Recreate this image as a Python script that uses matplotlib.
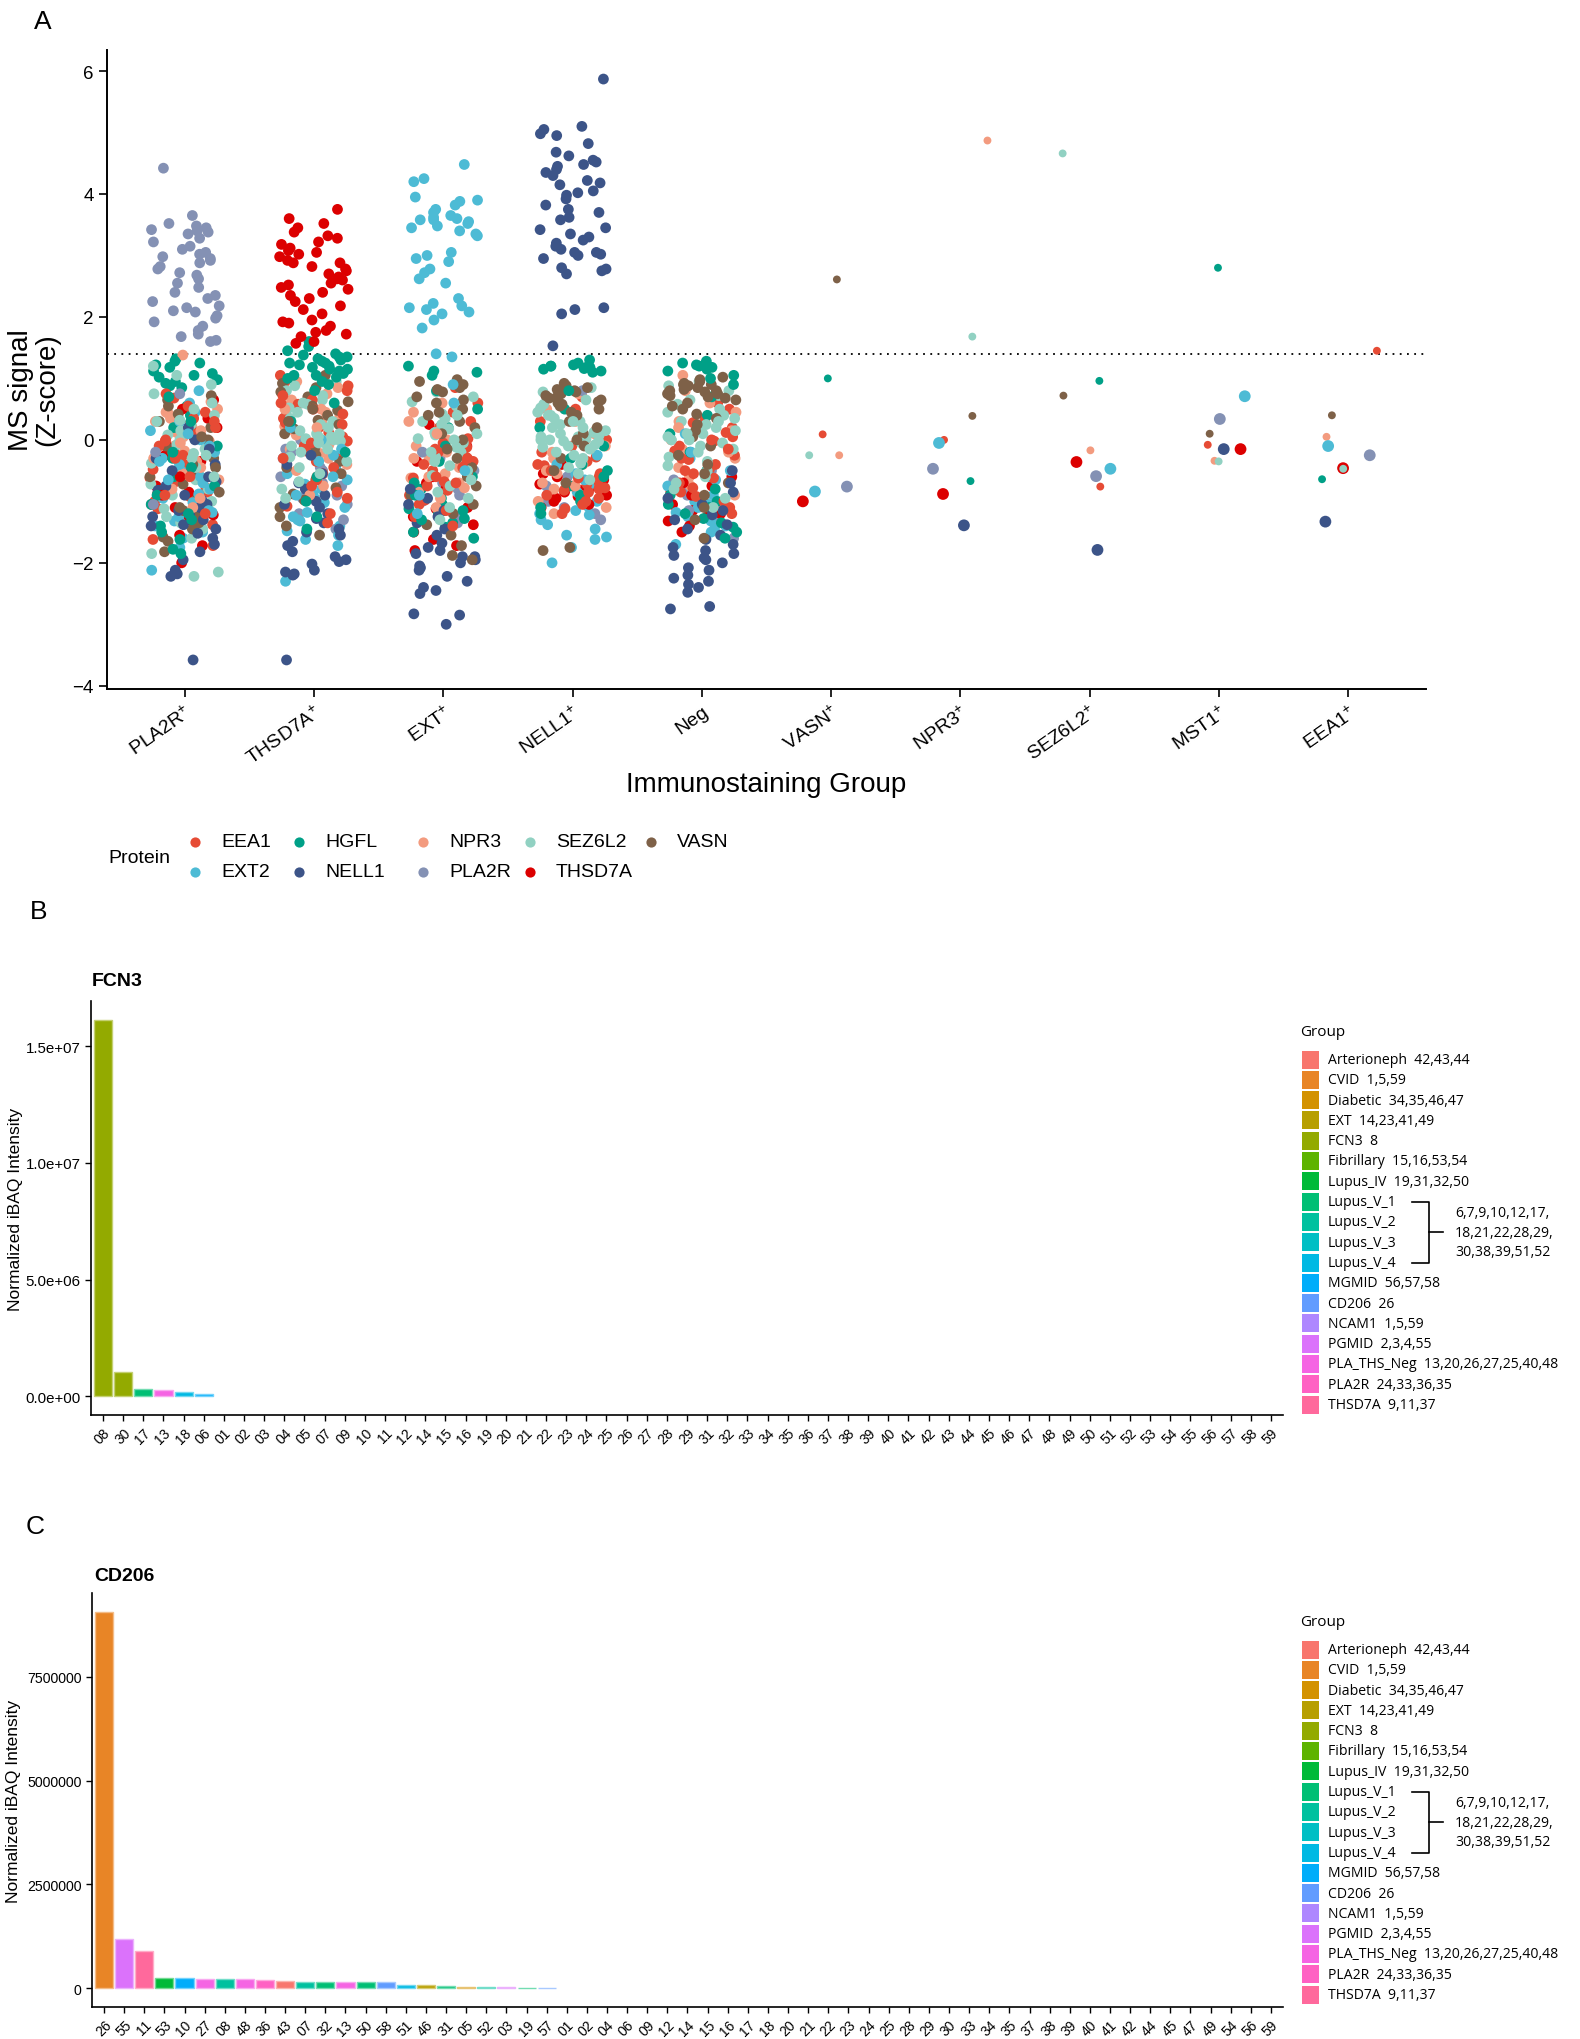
import numpy as np
import matplotlib
matplotlib.use("Agg")
import matplotlib.pyplot as plt
from matplotlib.patches import Rectangle

plt.rcParams['font.family'] = ['Liberation Sans', 'DejaVu Sans']
plt.rcParams['mathtext.fontset'] = 'custom'
plt.rcParams['mathtext.rm'] = 'Liberation Sans'
plt.rcParams['mathtext.it'] = 'Liberation Sans'

W, H = 1580, 2040

# ---------------- panel A data ----------------
proteins = ['EEA1', 'EXT2', 'HGFL', 'NELL1', 'NPR3', 'PLA2R', 'SEZ6L2', 'THSD7A', 'VASN']
protein_colors = ['#E64B35', '#4DBBD5', '#00A087', '#3C5488', '#F39B7F',
                  '#8491B4', '#91D1C2', '#DC0000', '#7E6148']
groups_a = ['PLA2R', 'THSD7A', 'EXT', 'NELL1', 'Neg', 'VASN', 'NPR3', 'SEZ6L2', 'MST1', 'EEA1']
threshold = 1.4

z_pla2r = {
    'PLA2R': [4.42, 3.65, 3.52, 3.48, 3.45, 3.42, 3.40, 3.38, 3.35, 3.28, 3.22, 3.15, 3.10, 3.05, 3.02,
              2.98, 2.95, 2.92, 2.88, 2.82, 2.78, 2.72, 2.68, 2.62, 2.55, 2.48, 2.40, 2.35, 2.30, 2.25,
              2.18, 2.15, 2.10, 2.08, 2.02, 1.98, 1.92, 1.85, 1.78, 1.72, 1.68, 1.62, 1.60, 0.75, -0.2, -1.05],
    'HGFL': [1.32, 1.28, 1.25, 1.22, 1.18, 1.12, 1.08, 1.05, 1.02, 0.98, 0.95, 0.92, 0.88, 0.85, 0.55, 0.4,
             0.2, 0.05, -0.1, -0.3, -0.45, -0.6, -0.75, -0.9, -1.05, -1.2, -1.3, -1.4, -1.5, -1.62, -1.78,
             -1.85, 0.7, 0.3, -0.2],
    'NELL1': [-3.58, -2.22, -2.18, -2.12, -1.95, -1.82, -1.7, -1.6, -1.52, -1.45, -1.38, -1.3, -1.22, -1.15,
              -1.1, -1.05, -0.98, -0.9, -0.82, -0.75, -0.68, -0.6, -0.5, -0.4, -0.3, -0.15, 0.0, 0.2, -1.25, -1.4],
    'EXT2': [-2.12, -1.75, -1.6, -1.5, -1.4, -1.32, -1.25, -1.18, -1.1, -1.02, -0.95, -0.88, -0.8, -0.7, -0.6,
             -0.5, -0.4, -0.3, -0.2, -0.1, 0.0, 0.15, 0.3, 0.45, 0.6, 0.8, -0.65, -0.35, -1.15, 0.1],
    'SEZ6L2': [-2.22, -2.15, -1.85, -1.6, -1.45, -1.35, -1.25, -1.12, -1.0, -0.9, -0.8, -0.72, -0.65, -0.55,
               -0.45, -0.38, -0.3, -0.22, -0.15, -0.08, 0.0, 0.08, 0.15, 0.25, 0.32, 0.4, 0.5, 0.6, 0.75, 0.9,
               1.05, 1.2, -0.25, 0.3, -0.6],
    'VASN': [-1.82, -1.65, -1.58, -1.45, -1.35, -1.25, -1.15, -1.05, -0.95, -0.88, -0.8, -0.72, -0.6, -0.5,
             -0.4, -0.3, -0.2, -0.1, 0.0, 0.1, 0.2, 0.3, 0.42, 0.55, 0.65, 0.72, -0.85, -1.1, 0.05, -0.45],
    'EEA1': [-1.72, -1.62, -1.5, -1.38, -1.25, -1.12, -1.0, -0.92, -0.85, -0.78, -0.7, -0.62, -0.55, -0.48,
             -0.4, -0.32, -0.25, -0.18, -0.1, -0.02, 0.05, 0.12, 0.2, 0.28, 0.35, 0.45, 0.55, 0.68, 0.75,
             -0.3, -0.6, 0.0, -0.9, 0.3, -1.2],
    'NPR3': [1.38, 0.62, 0.5, 0.42, 0.35, 0.28, 0.2, 0.12, 0.05, -0.02, -0.1, -0.18, -0.25, -0.35, -0.45,
             -0.55, -0.65, -0.8, -0.95, -1.1, 0.3, 0.15, -0.3, 0.45, -0.05],
    'THSD7A': [-2.0, -1.72, -1.55, -1.3, -1.22, -1.1, -0.95, -0.85, -0.75, -0.68, -0.55, -0.45, -0.35, -0.25,
               -0.1, 0.05, 0.2, 0.35, 0.5, 0.65, -0.9, -0.6],
}

z_thsd7a = {
    'THSD7A': [3.75, 3.6, 3.52, 3.45, 3.38, 3.32, 3.28, 3.22, 3.18, 3.12, 3.08, 3.02, 2.98, 2.92, 2.88, 2.82,
               2.78, 2.75, 2.7, 2.65, 2.6, 2.55, 2.52, 2.48, 2.45, 2.4, 2.35, 2.3, 2.25, 2.18, 2.12, 2.05,
               1.95, 1.92, 1.9, 1.85, 1.78, 1.72, 1.68, 1.6, 1.57, 2.62, 2.88, 3.05, 1.75],
    'HGFL': [1.6, 1.52, 1.45, 1.4, 1.38, 1.35, 1.32, 1.3, 1.28, 1.25, 1.22, 1.2, 1.18, 1.15, 1.12, 1.1, 1.08,
             1.05, 1.02, 1.0, 0.95, 0.9, 0.8, 0.6, 0.3, -0.2, -0.6, -1.0, -1.25, -1.45, 1.15, 1.25, 1.35, 1.05],
    'NELL1': [-3.58, -2.2, -2.18, -2.15, -2.12, -2.02, -1.98, -1.95, -1.9, -1.82, -1.72, -1.65, -1.55, -1.45,
              -1.35, -1.28, -1.2, -1.1, -1.0, -0.9, -0.8, -0.7, -0.55, -0.4, -0.25, -1.5, -1.05],
    'EXT2': [-2.3, -1.72, -1.62, -1.55, -1.48, -1.4, -1.32, -1.25, -1.18, -1.1, -1.02, -0.95, -0.88, -0.8,
             -0.72, -0.65, -0.55, -0.45, -0.35, -0.25, -0.15, 0.0, 0.2, -0.6, -0.9, -1.3],
    'SEZ6L2': [0.95, 0.88, 0.8, 0.72, 0.65, 0.58, 0.52, 0.45, 0.4, 0.35, 0.3, 0.25, 0.2, 0.15, 0.1, 0.05,
               0.02, 0.0, -0.02, -0.05, -0.1, -0.15, -0.2, -0.28, -0.35, -0.45, -0.55, -0.68, -0.8, -0.95,
               0.0, 0.05, -0.05, 0.1, 0.6],
    'VASN': [1.05, 0.92, 0.85, 0.78, 0.7, 0.62, 0.55, 0.48, 0.4, 0.32, 0.25, 0.18, 0.1, 0.02, -0.05, -0.15,
             -0.25, -0.35, -0.45, -0.55, -0.65, -0.78, -0.88, -0.98, -1.1, -1.25, -1.4, -1.55, 0.3, 0.5],
    'EEA1': [1.05, 0.95, 0.88, 0.8, 0.72, 0.65, 0.58, 0.5, 0.42, 0.35, 0.28, 0.2, 0.12, 0.05, -0.02, -0.1,
             -0.18, -0.25, -0.35, -0.45, -0.55, -0.65, -0.75, -0.85, -0.95, -1.08, -1.2, -1.35, 0.25, -0.3,
             0.6, -0.05],
    'NPR3': [0.95, 0.85, 0.75, 0.65, 0.58, 0.5, 0.45, 0.38, 0.3, 0.22, 0.15, 0.08, 0.0, -0.08, -0.15, -0.22,
             -0.3, -0.4, -0.5, -0.6, -0.75, -0.9, 0.5, 0.2],
    'PLA2R': [-1.45, -1.2, -1.05, -0.9, -0.75, -0.6, -0.45, -0.3, -0.15, 0.0, -1.3, -0.95, -0.7, -0.5, -0.2],
}

z_ext = {
    'EXT2': [4.48, 4.25, 4.2, 3.95, 3.9, 3.88, 3.82, 3.75, 3.7, 3.65, 3.6, 3.58, 3.55, 3.52, 3.48, 3.45, 3.4,
             3.35, 3.32, 3.05, 3.0, 2.95, 2.9, 2.78, 2.72, 2.62, 2.55, 2.3, 2.22, 2.18, 2.15, 2.12, 2.08, 2.05,
             1.95, 1.82, 3.58, 3.62, 1.4, 1.35, 0.9, 0.6, -0.5, -1.2, -0.9],
    'HGFL': [1.2, 1.12, 1.1, 1.05, 0.8, 0.5, 0.2, -0.1, -0.35, -0.6, -0.8, -0.95, -1.05, -1.12, -1.2, -1.28,
             -1.35, -1.42, -1.5, -1.6, -0.7, -0.9, -1.15, -1.3],
    'NELL1': [-3.0, -2.85, -2.83, -2.5, -2.45, -2.4, -2.3, -2.22, -2.12, -2.05, -2.0, -1.95, -1.9, -1.85, -1.8,
              -1.75, -1.68, -1.55, -1.45, -1.35, -1.25, -1.15, -1.05, -0.95, -0.8, -2.08, -1.9],
    'SEZ6L2': [0.78, 0.7, 0.62, 0.55, 0.5, 0.42, 0.35, 0.3, 0.25, 0.18, 0.12, 0.08, 0.02, -0.05, -0.12, -0.2,
               -0.28, -0.35, -0.42, -0.5, -0.58, -0.65, -0.75, -0.85, -0.95, -1.1, -1.3, 0.1, 0.0, -0.2, 0.4],
    'VASN': [0.98, 0.95, 0.9, 0.85, 0.82, 0.78, 0.7, 0.6, 0.5, 0.4, 0.3, 0.2, 0.1, 0.0, -0.15, -0.3, -0.45,
             -0.6, -0.75, -0.9, -1.05, -1.2, -1.38, -1.55, -1.72, -1.88, -1.95, 0.65, 0.45],
    'EEA1': [0.85, 0.6, 0.45, 0.3, 0.2, 0.1, 0.02, -0.05, -0.12, -0.2, -0.28, -0.35, -0.42, -0.5, -0.55, -0.62,
             -0.68, -0.75, -0.82, -0.9, -0.98, -1.05, -1.15, -1.25, -1.4, -0.3, -0.45, -0.6, -0.15, -0.7, -0.4],
    'NPR3': [0.8, 0.6, 0.45, 0.3, 0.15, 0.0, -0.1, -0.2, -0.32, -0.45, -0.55, -0.62, -0.7, -0.78, -0.85, -0.95,
             -1.1, -0.6, -0.3, 0.1],
    'THSD7A': [0.25, -0.1, -0.35, -0.6, -0.8, -0.98, -1.12, -1.25, -1.38, -1.5, -1.62, -1.72, -1.8, -1.1, -0.7],
    'PLA2R': [-0.3, -0.5, -0.7, -0.9, -1.0, -1.12, -1.25, -1.35, -0.2, -0.8],
}

z_nell1 = {
    'NELL1': [5.87, 5.1, 5.05, 4.98, 4.95, 4.82, 4.68, 4.62, 4.55, 4.52, 4.48, 4.45, 4.4, 4.35, 4.3, 4.22,
              4.18, 4.15, 4.05, 4.02, 3.98, 3.92, 3.82, 3.75, 3.7, 3.62, 3.58, 3.45, 3.42, 3.35, 3.3, 3.25,
              3.2, 3.15, 3.1, 3.05, 3.05, 3.02, 3.0, 2.95, 2.8, 2.78, 2.75, 2.7, 2.15, 2.12, 2.05, 1.53],
    'HGFL': [1.3, 1.25, 1.22, 1.2, 1.2, 1.18, 1.18, 1.16, 1.15, 1.12, 1.1, 0.8, 0.5, 0.2, -0.1, -0.4, -0.6,
             -0.75, -0.9, -1.0, -1.1, -1.2, -0.5, -0.3],
    'EXT2': [-2.0, -1.75, -1.62, -1.58, -1.55, -1.45, -1.38, -1.3, -1.22, -1.15, -1.08, -1.0, -0.92, -0.85,
             -0.75, -0.65, -0.55, -0.4, -0.25, -1.2],
    'SEZ6L2': [0.85, 0.78, 0.72, 0.65, 0.58, 0.52, 0.45, 0.4, 0.35, 0.3, 0.25, 0.2, 0.15, 0.12, 0.08, 0.05,
               0.02, 0.0, -0.02, -0.05, -0.08, -0.12, -0.15, -0.2, -0.25, -0.3, -0.38, -0.45, -0.55, -0.65,
               0.1, 0.0, -0.1, 0.2, 0.3, 0.4, 0.05, -0.02],
    'VASN': [0.92, 0.88, 0.85, 0.82, 0.8, 0.78, 0.75, 0.72, 0.7, 0.68, 0.65, 0.6, 0.55, 0.5, 0.45, 0.4, 0.3,
             0.2, 0.1, 0.0, -0.1, -0.3, -0.5, -0.7, -1.75, -1.8, 0.62, 0.58],
    'EEA1': [0.7, 0.5, 0.3, 0.15, 0.0, -0.1, -0.2, -0.28, -0.35, -0.42, -0.5, -0.55, -0.6, -0.65, -0.7, -0.72,
             -0.75, -0.8, -0.82, -0.85, -0.9, -0.95, -1.0, -1.05, -1.12, -1.2, -0.62, -0.78, -0.4],
    'NPR3': [0.75, 0.5, 0.3, 0.1, 0.0, -0.1, -0.2, -0.3, -0.4, -0.5, -0.6, -0.7, -0.8, -0.9, -1.0, -1.1, -1.2,
             -0.55, -0.75],
    'THSD7A': [-0.4, -0.55, -0.65, -0.72, -0.78, -0.82, -0.85, -0.88, -0.92, -0.95, -1.0, -1.05, -1.1, -0.6, -0.9],
    'PLA2R': [0.8, -0.6, -0.9, -1.1, -1.2, -1.3, -1.0, -0.75],
}

z_neg = {
    'NELL1': [-2.75, -2.71, -2.48, -2.4, -2.35, -2.3, -2.25, -2.2, -2.12, -2.08, -2.0, -1.95, -1.92, -1.88,
              -1.85, -1.8, -1.75, -1.7, -1.62, -1.55, -1.45, -1.38, -1.3, -1.22, -1.15, -1.05, -0.95, -0.85,
              -0.7, -0.5],
    'HGFL': [1.28, 1.25, 1.22, 1.2, 1.18, 1.15, 1.12, 1.05, 1.0, 0.9, 0.7, 0.4, 0.1, -0.2, -0.5, -0.8, -1.0,
             -1.1, -1.2, -1.28, -1.35, -1.42, -1.5, -1.6, -1.05, -0.9],
    'VASN': [1.02, 0.98, 0.95, 0.92, 0.9, 0.88, 0.85, 0.82, 0.8, 0.78, 0.75, 0.72, 0.7, 0.68, 0.65, 0.6, 0.55,
             0.5, 0.42, 0.35, 0.25, 0.15, 0.05, -0.1, -0.25, -0.4, -0.55, -0.7, -0.9, -1.1, -1.3, -1.6, 0.8,
             0.75, 0.9],
    'SEZ6L2': [0.95, 0.88, 0.8, 0.72, 0.65, 0.58, 0.5, 0.45, 0.4, 0.35, 0.3, 0.25, 0.2, 0.15, 0.1, 0.05, 0.0,
               -0.05, -0.1, -0.15, -0.2, -0.28, -0.35, -0.42, -0.5, -0.6, -0.7, -0.8, -0.95, -1.1, 0.2, 0.1,
               0.0, 0.3],
    'EEA1': [0.6, 0.5, 0.42, 0.35, 0.28, 0.2, 0.12, 0.05, -0.02, -0.1, -0.18, -0.25, -0.32, -0.4, -0.48, -0.55,
             -0.62, -0.7, -0.78, -0.85, -0.92, -1.0, -1.1, -1.2, -0.3, -0.5, 0.0, -0.15],
    'EXT2': [-0.3, -0.5, -0.65, -0.8, -0.9, -1.0, -1.1, -1.18, -1.25, -1.32, -1.4, -1.5, -1.6, -1.7, -0.6,
             -0.75, -1.05, -1.45, -0.2, 0.1],
    'NPR3': [1.05, 0.8, 0.6, 0.45, 0.3, 0.15, 0.0, -0.15, -0.3, -0.45, -0.6, -0.75, -0.9, -1.05, -0.2, 0.2],
    'THSD7A': [-0.6, -0.75, -0.85, -0.95, -1.05, -1.15, -1.25, -1.32, -1.4, -1.5, -0.9, -1.2, -0.7],
    'PLA2R': [-0.5, -0.65, -0.8, -1.0, -1.3, -1.6, -0.9, -1.15],
}

# single-case groups: one value per protein
z_vasn = {'VASN': 2.61, 'HGFL': 1.00, 'EEA1': 0.09, 'SEZ6L2': -0.25, 'NPR3': -0.25,
          'PLA2R': -0.76, 'EXT2': -0.84, 'THSD7A': -1.00}
z_npr3 = {'NPR3': 4.87, 'SEZ6L2': 1.68, 'VASN': 0.39, 'EEA1': 0.0, 'EXT2': -0.05,
          'PLA2R': -0.47, 'HGFL': -0.67, 'THSD7A': -0.88, 'NELL1': -1.39}
z_sez6l2 = {'SEZ6L2': 4.66, 'HGFL': 0.96, 'VASN': 0.72, 'NPR3': -0.17, 'THSD7A': -0.36,
            'EXT2': -0.47, 'PLA2R': -0.59, 'EEA1': -0.76, 'NELL1': -1.79}
z_mst1 = {'HGFL': 2.80, 'EXT2': 0.71, 'PLA2R': 0.34, 'VASN': 0.10, 'EEA1': -0.08,
          'THSD7A': -0.15, 'NELL1': -0.15, 'NPR3': -0.34, 'SEZ6L2': -0.35}
z_eea1 = {'EEA1': 1.45, 'VASN': 0.40, 'NPR3': 0.05, 'EXT2': -0.10, 'PLA2R': -0.25,
          'THSD7A': -0.46, 'SEZ6L2': -0.47, 'HGFL': -0.64, 'NELL1': -1.33}

# ---------------- panel B / C data ----------------
fcn3_samples = ['08', '30', '17', '13', '18', '06', '01', '02', '03', '04', '05', '07', '09', '10', '11',
                '12', '14', '15', '16', '19', '20', '21', '22', '23', '24', '25', '26', '27', '28', '29',
                '31', '32', '33', '34', '35', '36', '37', '38', '39', '40', '41', '42', '43', '44', '45',
                '46', '47', '48', '49', '50', '51', '52', '53', '54', '55', '56', '57', '58', '59']
fcn3_values = [1.614e7, 1.05e6, 3.2e5, 2.45e5, 1.9e5, 1.15e5, 0, 0, 0, 0, 0, 0, 0, 0, 0,
               0, 0, 0, 0, 0, 0, 0, 0, 0, 0, 0, 0, 0, 0, 0,
               0, 0, 0, 0, 0, 0, 0, 0, 0, 0, 0, 0, 0, 0, 0,
               0, 0, 0, 0, 0, 0, 0, 0, 0, 0, 0, 0, 0, 0]
fcn3_bar_groups = ['FCN3', 'FCN3', 'Lupus_V_1', 'PLA_THS_Neg', 'Lupus_V_4', 'MGMID']
fcn3_yticks = [0, 5e6, 1e7, 1.5e7]

cd206_samples = ['26', '55', '11', '53', '10', '27', '08', '48', '36', '43', '07', '32', '13', '50', '58',
                 '51', '46', '31', '05', '52', '03', '19', '57', '01', '02', '04', '06', '09', '12', '14',
                 '15', '16', '17', '18', '20', '21', '22', '23', '24', '25', '28', '29', '30', '33', '34',
                 '35', '37', '38', '39', '40', '41', '42', '44', '45', '47', '49', '54', '56', '59']
cd206_values = [9.07e6, 1.18e6, 8.84e5, 2.49e5, 2.41e5, 2.33e5, 2.33e5, 2.25e5, 2.09e5, 1.69e5, 1.61e5,
                1.61e5, 1.37e5, 1.37e5, 1.37e5, 8.0e4, 7.2e4, 5.6e4, 3.2e4, 2.4e4, 2.4e4, 1.6e4, 1.6e4,
                0, 0, 0, 0, 0, 0, 0, 0, 0, 0, 0, 0, 0, 0, 0, 0, 0, 0, 0, 0, 0, 0, 0,
                0, 0, 0, 0, 0, 0, 0, 0, 0, 0, 0, 0, 0]
cd206_bar_groups = ['CVID', 'PGMID', 'THSD7A', 'Lupus_IV', 'MGMID', 'PLA_THS_Neg', 'Lupus_V_2',
                    'PLA_THS_Neg', 'PLA2R', 'Arterioneph', 'Lupus_V_2', 'Lupus_V_1', 'PLA_THS_Neg',
                    'Lupus_V_1', 'CD206', 'Lupus_V_4', 'EXT', 'Lupus_V_1', 'Diabetic', 'Lupus_V_2',
                    'PGMID', 'Lupus_V_1', 'CD206']
cd206_yticks = [0, 2.5e6, 5e6, 7.5e6]

group_names = ['Arterioneph', 'CVID', 'Diabetic', 'EXT', 'FCN3', 'Fibrillary', 'Lupus_IV', 'Lupus_V_1',
               'Lupus_V_2', 'Lupus_V_3', 'Lupus_V_4', 'MGMID', 'CD206', 'NCAM1', 'PGMID', 'PLA_THS_Neg',
               'PLA2R', 'THSD7A']
group_cases = ['42,43,44', '1,5,59', '34,35,46,47', '14,23,41,49', '8', '15,16,53,54', '19,31,32,50',
               '', '', '', '', '56,57,58', '26', '1,5,59', '2,3,4,55', '13,20,26,27,25,40,48',
               '24,33,36,35', '9,11,37']
lupus_v_cases = '6,7,9,10,12,17,\n18,21,22,28,29,\n30,38,39,51,52'


def hcl_rgb(h, c=100.0, l=65.0):
    # ggplot2 hue palette colour (polar Luv -> sRGB)
    hr = np.deg2rad(h)
    u, v = c * np.cos(hr), c * np.sin(hr)
    xn, yn, zn = 95.047, 100.0, 108.883
    y = yn * ((l + 16) / 116) ** 3
    den = xn + 15 * yn + 3 * zn
    up = u / (13 * l) + 4 * xn / den
    vp = v / (13 * l) + 9 * yn / den
    x = 9 * y * up / (4 * vp)
    z = -x / 3 - 5 * y + 3 * y / vp
    m = np.array([[3.240479, -1.537150, -0.498535],
                  [-0.969256, 1.875992, 0.041556],
                  [0.055648, -0.204043, 1.057311]])
    lin = m @ (np.array([x, y, z]) / 100)
    out = [12.92 * t if t <= 0.0031308 else 1.055 * t ** (1 / 2.4) - 0.055 for t in lin]
    return tuple(np.clip(out, 0, 1))


hues = np.linspace(15, 375, len(group_names) + 1)[:-1]
group_colors = {g: hcl_rgb(h) for g, h in zip(group_names, hues)}
pcol = dict(zip(proteins, protein_colors))


def jitter(n, width, seed):
    # deterministic hash-style jitter offsets in [-width, width]
    k = np.arange(n) + 1.0
    frac = np.modf(np.abs(np.sin(k * 12.9898 + seed * 78.233)) * 43758.5453)[0]
    return (frac - 0.5) * 2 * width


def frame(l, t, r, b):
    return [l / W, 1 - b / H, (r - l) / W, (b - t) / H]


fig = plt.figure(figsize=(W / 100, H / 100), dpi=100)

# ---------------- panel A ----------------
ax = fig.add_axes(frame(107, 51, 1426, 690))
big = [z_pla2r, z_thsd7a, z_ext, z_nell1, z_neg]
small = [z_vasn, z_npr3, z_sez6l2, z_mst1, z_eea1]
large_set = {'PLA2R', 'EXT2', 'THSD7A', 'NELL1'}
all_y = []
for gi, d in enumerate(big):
    rows = []
    for p in proteins:
        for rank, val in enumerate(d.get(p, [])):
            rows.append((rank, proteins.index(p), val))
    rows.sort(key=lambda r: (r[0], r[1]))
    ys = np.array([r[2] for r in rows])
    cs = [protein_colors[r[1]] for r in rows]
    xs = gi + jitter(len(ys), 0.27, 1.7 + gi)
    ax.scatter(xs, ys, s=60, c=cs, linewidths=0, zorder=3)
    all_y.extend(ys)
for gi, d in enumerate(small):
    ps = list(d.keys())
    ys = np.array([d[p] for p in ps])
    xs = gi + len(big) + jitter(len(ys), 0.23, 11.3 + gi)
    ss = [72 if p in large_set else 32 for p in ps]
    ax.scatter(xs, ys, s=ss, c=[pcol[p] for p in ps], linewidths=0, zorder=3)
    all_y.extend(ys)

lo, hi = min(all_y), max(all_y)
pad = 0.05 * (hi - lo)
ax.set_ylim(lo - pad, hi + pad)
ax.set_xlim(-0.6, len(groups_a) - 0.4)
ax.axhline(threshold, color='black', lw=1.3, ls=(0, (1, 3)), zorder=2)
ax.set_yticks([-4, -2, 0, 2, 4, 6])
ax.set_xticks(range(len(groups_a)))
ax.set_xticklabels([g if g == 'Neg' else g + r'$^{+}$' for g in groups_a],
                   rotation=35, ha='right', rotation_mode='anchor', fontsize=14)
ax.tick_params(axis='y', labelsize=13.5)
ax.tick_params(length=6, width=1.2, color='black')
for s in ['top', 'right']:
    ax.spines[s].set_visible(False)
for s in ['left', 'bottom']:
    ax.spines[s].set_linewidth(1.4)


# ---------------- panels B and C ----------------
def bar_panel(rect, samples, values, bar_groups, yticks, fmt, ysize):
    bx = fig.add_axes(rect)
    cols = [group_colors[g] for g in bar_groups] + [(1, 1, 1)] * (len(values) - len(bar_groups))
    edges = [tuple(0.55 * np.array(c) + 0.45) for c in cols]
    lws = [1.0 if v > 0 else 0 for v in values]
    bx.bar(range(len(values)), values, width=0.9, color=cols, edgecolor=edges, linewidth=lws, zorder=3)
    top = max(values)
    bx.set_ylim(-0.05 * top, 1.05 * top)
    bx.set_xlim(-0.6, len(values) - 0.4)
    bx.set_xticks(range(len(values)))
    bx.set_xticklabels(samples, rotation=45, ha='right', rotation_mode='anchor', fontsize=10)
    bx.set_yticks(yticks)
    bx.set_yticklabels([fmt(v) for v in yticks], fontsize=ysize)
    bx.tick_params(length=4, width=1.0, color='black')
    for s in ['top', 'right']:
        bx.spines[s].set_visible(False)
    for s in ['left', 'bottom']:
        bx.spines[s].set_linewidth(1.2)
    return bx


bar_panel(frame(91, 1002, 1283, 1416), fcn3_samples, fcn3_values, fcn3_bar_groups,
          fcn3_yticks, lambda v: f'{v:.1e}', 10.8)
bar_panel(frame(92, 1594, 1283, 2008), cd206_samples, cd206_values, cd206_bar_groups,
          cd206_yticks, lambda v: f'{v:.0f}', 10.2)

# ---------------- overlay: labels and legends ----------------
ov = fig.add_axes([0, 0, 1, 1])
ov.set_xlim(0, W)
ov.set_ylim(H, 0)
ov.axis('off')

ov.text(43, 22, 'A', fontsize=19, ha='center', va='center')
ov.text(39, 912, 'B', fontsize=19, ha='center', va='center')
ov.text(35, 1527, 'C', fontsize=19, ha='center', va='center')

ov.text(34, 390, 'MS signal\n(Z-score)', fontsize=20, rotation=90, ha='center', va='center',
        multialignment='center', linespacing=1.0)
ov.text(766, 785, 'Immunostaining Group', fontsize=20, ha='center', va='center')

ov.text(16, 1209, 'Normalized iBAQ Intensity', fontsize=12.5, rotation=90, ha='center', va='center')
ov.text(14, 1801, 'Normalized iBAQ Intensity', fontsize=12.5, rotation=90, ha='center', va='center')

ov.text(92, 982, 'FCN3', fontsize=14, fontweight='bold', ha='left', va='center')
ov.text(94, 1577, 'CD206', fontsize=14, fontweight='bold', ha='left', va='center')

# protein legend
ov.text(108, 859, 'Protein', fontsize=14, ha='left', va='center')
col_x = [195, 299, 423, 530, 651]
row_y = [843, 873]
for i, p in enumerate(proteins):
    cx, cy = col_x[i // 2], row_y[i % 2]
    ov.scatter([cx], [cy], s=54, color=pcol[p], linewidths=0)
    ov.text(cx + 26, cy, p, fontsize=14, ha='left', va='center')


def group_legend(title_y):
    lf = ['Open Sans', 'DejaVu Sans']
    ov.text(1300, title_y, 'Group', fontsize=11, ha='left', va='center', family=lf)
    y0 = title_y + 27.5
    step = 20.3
    for i, g in enumerate(group_names):
        yc = y0 + i * step
        ov.add_patch(Rectangle((1302, yc - 9), 17, 18, facecolor=group_colors[g], edgecolor='none'))
        lab = g + ('  ' + group_cases[i] if group_cases[i] else '')
        ov.text(1328, yc, lab, fontsize=10.1, ha='left', va='center', family=lf)
    ya, yb = y0 + 7 * step, y0 + 10 * step
    ov.plot([1412, 1429, 1429, 1412], [ya, ya, yb, yb], color='black', lw=1.2)
    ym = (ya + yb) / 2
    ov.plot([1429, 1443], [ym, ym], color='black', lw=1.2)
    ov.text(1455, ym, lupus_v_cases, fontsize=10.1, ha='left', va='center', family=lf, linespacing=1.45)


group_legend(1033)
group_legend(1623)

fig.savefig('out.png', dpi=100)
